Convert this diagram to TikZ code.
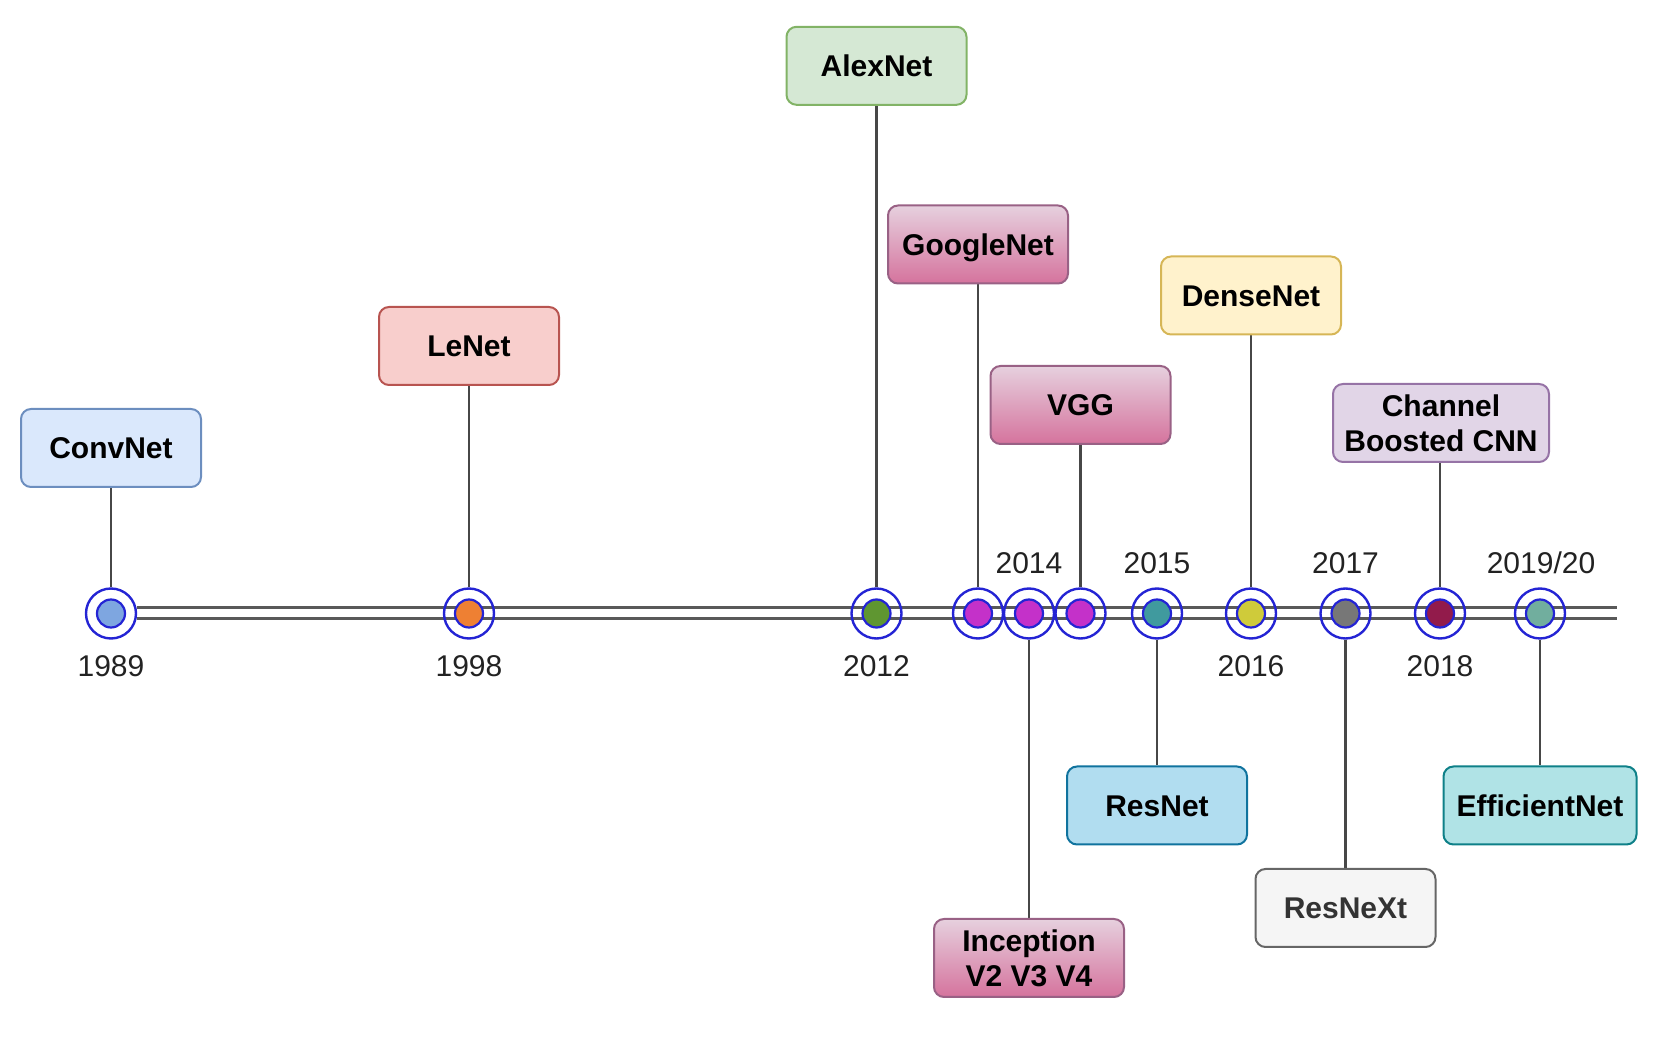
\documentclass[tikz,border=0pt]{standalone}
\usepackage{fontspec}
\setmainfont{Liberation Sans}
\usetikzlibrary{backgrounds}
\definecolor{ringblue}{HTML}{2424D4}
\definecolor{tlgray}{HTML}{595959}
\definecolor{conngray}{HTML}{474747}
\definecolor{yeargray}{HTML}{222222}
\definecolor{d1989}{HTML}{7EA6E0}
\definecolor{d1998}{HTML}{EE8033}
\definecolor{d2012}{HTML}{5F9631}
\definecolor{dmag}{HTML}{C431C9}
\definecolor{d2015}{HTML}{409A9E}
\definecolor{d2016}{HTML}{CFCB3A}
\definecolor{d2017}{HTML}{777777}
\definecolor{d2018}{HTML}{921B4B}
\definecolor{d2019}{HTML}{71AE9E}
\definecolor{bluefill}{HTML}{DAE8FC}\definecolor{bluedraw}{HTML}{6C8EBF}
\definecolor{redfill}{HTML}{F8CECC}\definecolor{reddraw}{HTML}{B85450}
\definecolor{greenfill}{HTML}{D5E8D4}\definecolor{greendraw}{HTML}{82B366}
\definecolor{pinktop}{HTML}{E6D0DE}\definecolor{pinkbot}{HTML}{D5739D}\definecolor{pinkdraw}{HTML}{996185}
\definecolor{yellowfill}{HTML}{FFF2CC}\definecolor{yellowdraw}{HTML}{D6B656}
\definecolor{purplefill}{HTML}{E1D5E7}\definecolor{purpledraw}{HTML}{9673A6}
\definecolor{cyanfill}{HTML}{B1DDF0}\definecolor{cyandraw}{HTML}{10739E}
\definecolor{grayfill}{HTML}{F5F5F5}\definecolor{graydraw}{HTML}{666666}\definecolor{graytext}{HTML}{333333}
\definecolor{tealfill}{HTML}{B0E3E6}\definecolor{tealdraw}{HTML}{0E8088}
\begin{document}
\begin{tikzpicture}[x=0.5pt,y=-0.5pt,
  box/.style={rectangle, rounded corners=5pt, line width=1pt, minimum width=90pt,
    minimum height=39pt, inner sep=0pt, font=\fontsize{15}{17.5}\selectfont\bfseries},
  oneline/.style={text height=10.75pt, text depth=0pt},
  twoline/.style={align=center},
  pinkbox/.style={box, top color=pinktop, bottom color=pinkbot, draw=pinkdraw},
  ring/.style={circle, draw=ringblue, line width=1.2pt, minimum size=25pt, inner sep=0pt},
  dot/.style={circle, draw=ringblue, line width=1.1pt, minimum size=14pt, inner sep=0pt},
  conn/.style={draw=conngray, line width=1.1pt},
  tlouter/.style={draw=tlgray, line width=7pt},
  tlinner/.style={draw=white, line width=4pt},
  yr/.style={anchor=base, font=\fontsize{15}{18}\selectfont, text=yeargray, inner sep=0pt}]
\useasboundingbox (0,0) rectangle (1662,1042);
\coordinate (tlend) at (1617,613.5);
% circles
\node[ring] (r1989) at (111,613.5) {};   \node[dot, fill=d1989] (p1989) at (111,613.5) {};
\node[ring] (r1998) at (469,613.5) {};   \node[dot, fill=d1998] (p1998) at (469,613.5) {};
\node[ring] (r2012) at (876.5,613.5) {}; \node[dot, fill=d2012] (p2012) at (876.5,613.5) {};
\node[ring] (rgoo) at (978,613.5) {};    \node[dot, fill=dmag] (pgoo) at (978,613.5) {};
\node[ring] (rinc) at (1029,613.5) {};   \node[dot, fill=dmag] (pinc) at (1029,613.5) {};
\node[ring] (rvgg) at (1080.5,613.5) {}; \node[dot, fill=dmag] (pvgg) at (1080.5,613.5) {};
\node[ring] (r2015) at (1157,613.5) {};  \node[dot, fill=d2015] (p2015) at (1157,613.5) {};
\node[ring] (r2016) at (1251,613.5) {};  \node[dot, fill=d2016] (p2016) at (1251,613.5) {};
\node[ring] (r2017) at (1345.5,613.5) {};\node[dot, fill=d2017] (p2017) at (1345.5,613.5) {};
\node[ring] (r2018) at (1440,613.5) {};  \node[dot, fill=d2018] (p2018) at (1440,613.5) {};
\node[ring] (r2019) at (1540,613.5) {};  \node[dot, fill=d2019] (p2019) at (1540,613.5) {};
% boxes
\node[box, oneline, fill=bluefill, draw=bluedraw] (convnet) at (111,448) {ConvNet};
\node[box, oneline, fill=redfill, draw=reddraw] (lenet) at (469,346) {LeNet};
\node[box, oneline, fill=greenfill, draw=greendraw] (alexnet) at (876.5,65.8) {AlexNet};
\node[pinkbox, oneline] (googlenet) at (978,244.5) {GoogleNet};
\node[pinkbox, oneline] (vgg) at (1080.5,405) {VGG};
\node[pinkbox, twoline, minimum width=95pt] (inception) at (1029,958) {Inception\\V2 V3 V4};
\node[box, oneline, fill=yellowfill, draw=yellowdraw] (densenet) at (1251,295.5) {DenseNet};
\node[box, twoline, fill=purplefill, draw=purpledraw, minimum width=108pt] (cbcnn) at (1441,423) {Channel\\Boosted CNN};
\node[box, oneline, fill=cyanfill, draw=cyandraw] (resnet) at (1157,805.5) {ResNet};
\node[box, oneline, fill=grayfill, draw=graydraw, text=graytext] (resnext) at (1345.5,908) {ResNeXt};
\node[box, oneline, fill=tealfill, draw=tealdraw, minimum width=96.5pt] (efficientnet) at (1540,805.5) {EfficientNet};
% year labels
\node[yr] (y1989) at (111,676.5) {1989};
\node[yr] (y1998) at (469,676.5) {1998};
\node[yr] (y2012) at (876.5,676.5) {2012};
\node[yr] (y2016) at (1251,676.5) {2016};
\node[yr] (y2018) at (1440,676.5) {2018};
\node[yr] (y2014) at (1029,573.5) {2014};
\node[yr] (y2015) at (1157,573.5) {2015};
\node[yr] (y2017) at (1345.5,573.5) {2017};
\node[yr] (y2019) at (1541,573.5) {2019/20};
% lines behind
\begin{scope}[on background layer]
\draw[tlouter] (r1989) -- (tlend);
\draw[tlinner] (r1989) -- (tlend);
\draw[conn] (convnet) -- (r1989);
\draw[conn] (lenet) -- (r1998);
\draw[conn] (alexnet) -- (r2012);
\draw[conn] (googlenet) -- (rgoo);
\draw[conn] (vgg) -- (rvgg);
\draw[conn] (densenet) -- (r2016);
\draw[conn] (cbcnn.south -| r2018) -- (r2018);
\draw[conn] (rinc) -- (inception);
\draw[conn] (r2015) -- (resnet);
\draw[conn] (r2017) -- (resnext);
\draw[conn] (r2019) -- (efficientnet);
\end{scope}
\end{tikzpicture}
\end{document}
